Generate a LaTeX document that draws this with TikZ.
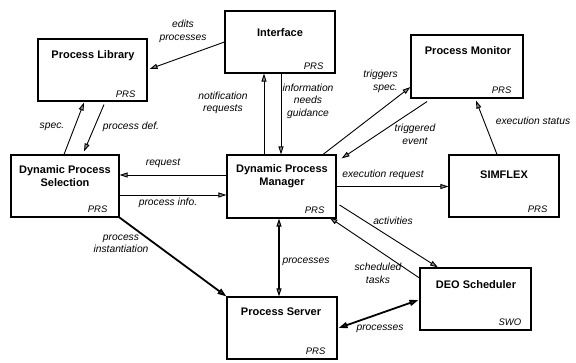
\documentclass[tikz,border=0pt]{standalone}
\usepackage{fontspec}
\setmainfont{Liberation Sans}
\usetikzlibrary{arrows.meta,calc}
\begin{document}
\begin{tikzpicture}[x=1pt,y=-1pt,
  box/.style={draw,line width=1.1pt,rectangle,inner sep=0pt},
  ttl/.style={font=\fontsize{11}{13}\selectfont\bfseries,align=center,inner sep=0pt},
  tag/.style={font=\fontsize{9.5}{11}\selectfont\itshape,anchor=east,inner sep=0pt},
  lbl/.style={font=\fontsize{10.3}{12.5}\selectfont\itshape,align=center,inner sep=0pt},
  arr/.style={line width=0.9pt,-{Triangle[length=8pt,width=5pt,fill=black!45]}},
  thk/.style={line width=1.8pt,-{Triangle[length=9pt,width=6pt,fill=black!45]}},
  dbl/.style={line width=1.1pt,{Triangle[length=8pt,width=5pt,fill=black!45]}-{Triangle[length=8pt,width=5pt,fill=black!45]}},
  dblthk/.style={line width=1.8pt,{Triangle[length=9pt,width=6pt,fill=black!45]}-{Triangle[length=9pt,width=6pt,fill=black!45]}}
]
\useasboundingbox (0,0) rectangle (576,362);
% boxes
\node[box,minimum width=109pt,minimum height=62pt] (PL) at (92.5,70) {};
\node[box,minimum width=110pt,minimum height=62pt] (IF) at (280,42) {};
\node[box,minimum width=112pt,minimum height=63pt] (PM) at (467,66.5) {};
\node[box,minimum width=108pt,minimum height=62pt] (DPS) at (65,186) {};
\node[box,minimum width=109pt,minimum height=63pt] (DPM) at (281.5,186.5) {};
\node[box,minimum width=110pt,minimum height=62pt] (SIM) at (504,186) {};
\node[box,minimum width=110pt,minimum height=62pt] (PS) at (282,328) {};
\node[box,minimum width=111pt,minimum height=62pt] (DEO) at (475.5,299) {};
% titles
\node[ttl] (tPL) at (93,56) {Process Library};
\node[ttl] (tIF) at (280,33) {Interface};
\node[ttl] (tPM) at (468,51) {Process Monitor};
\node[ttl] (tDPS) at (65,176.5) {Dynamic Process\\Selection};
\node[ttl] (tDPM) at (282,176.5) {Dynamic Process\\Manager};
\node[ttl] (tSIM) at (504,175) {SIMFLEX};
\node[ttl] (tPS) at (281,312) {Process Server};
\node[ttl] (tDEO) at (476,285) {DEO Scheduler};
% tags
\node[tag] (gPL) at ($(PL.south east)+(-12,-7)$) {PRS};
\node[tag] (gIF) at ($(IF.south east)+(-12,-7)$) {PRS};
\node[tag] (gPM) at ($(PM.south east)+(-12,-8)$) {PRS};
\node[tag] (gDPS) at ($(DPS.south east)+(-12,-8)$) {PRS};
\node[tag] (gDPM) at ($(DPM.south east)+(-12,-8)$) {PRS};
\node[tag] (gSIM) at ($(SIM.south east)+(-12,-8)$) {PRS};
\node[tag] (gPS) at ($(PS.south east)+(-12,-8)$) {PRS};
\node[tag] (gDEO) at ($(DEO.south east)+(-10,-8)$) {SWO};
% connectors
\draw[arr] (IF.west) -- ($(PL.east)+(2,-1)$);
\draw[arr] ($(PL.south)+(11.5,3)$) -- ($(DPS.north)+(19,-3)$);
\draw[arr] ($(DPS.north)+(-1,0)$) -- ($(PL.south)+(-8.5,1)$);
\coordinate (n1) at ($(DPM.north)+(-17.5,0)$);
\draw[arr] (n1) -- (n1 |- IF.south);
\coordinate (n2) at ($(IF.south)+(1,0)$);
\draw[arr] (n2) -- (n2 |- DPM.north);
\coordinate (r1) at ($(DPM.west)+(0,-11.5)$);
\draw[arr] (r1) -- (r1 -| DPS.east);
\coordinate (r2) at ($(DPS.east)+(0,9)$);
\draw[arr] (r2) -- (r2 -| DPM.west);
\draw[arr] (DPM.east) -- (DPM.east -| SIM.west);
\draw[thk] (DPS.south east) -- (PS.north west);
\coordinate (v1) at ($(DPM.south)+(-2.5,0)$);
\draw[dbl] (v1) -- (v1 |- PS.north);
\draw[arr] ($(DPM.north)+(41.5,0)$) -- ($(PM.west)+(0,20.5)$);
\draw[arr] ($(PM.south)+(-40,3)$) -- ($(DPM.north east)+(5,4)$);
\draw[arr] ($(SIM.north)+(-7,0)$) -- ($(PM.south)+(9,2)$);
\draw[arr] ($(DPM.east)+(3,18.5)$) -- ($(DEO.north)+(-37.5,0)$);
\draw[arr] ($(DEO.west)+(0,-21)$) -- ($(DPM.south east)+(-7,-1)$);
\draw[dblthk] ($(PS.east)+(1,0)$) -- ($(DEO.west)+(-1,1)$);
% labels
\node[lbl] (l1) at (183,31.5) {edits\\processes};
\node[lbl] (l2) at (52,127) {spec.};
\node[lbl] (l3) at (131,127) {process def.};
\node[lbl] (l4) at (223,103) {notification\\requests};
\node[lbl] (l5) at (308,101) {information\\needs\\guidance};
\node[lbl] (l6) at (163,163.5) {request};
\node[lbl] (l7) at (168,203) {process info.};
\node[lbl] (l8) at (121,244) {process\\instantiation};
\node[lbl] (l9) at (306,262) {processes};
\node[lbl,align=right,anchor=east] (l10) at (398,81.5) {triggers\\spec.};
\node[lbl] (l11) at (415,134.5) {triggered\\event};
\node[lbl] (l12) at (533,120.5) {execution status};
\node[lbl] (l13) at (383,175) {execution request};
\node[lbl] (l14) at (393,221) {activities};
\node[lbl] (l15) at (378,273.5) {scheduled\\tasks};
\node[lbl] (l16) at (380,329) {processes};
\end{tikzpicture}
\end{document}
